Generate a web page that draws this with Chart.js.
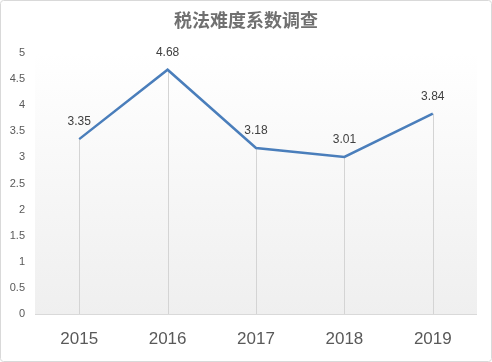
<!DOCTYPE html>
<html><head><meta charset="utf-8">
<script src="https://cdn.jsdelivr.net/npm/chart.js@4/dist/chart.umd.min.js"></script>
<style>html,body{margin:0;padding:0;background:#fff}#wrap{width:492px;height:362px;position:relative}</style>
</head><body><div id="wrap"><canvas id="c" width="492" height="362"></canvas></div>
<script>
const titleText = "税法难度系数调查";
const categories = ["2015", "2016", "2017", "2018", "2019"];
const values = [3.35, 4.68, 3.18, 3.01, 3.84];
const yTicks = [0, 0.5, 1, 1.5, 2, 2.5, 3, 3.5, 4, 4.5, 5];

const deco = {
  id: 'deco',
  beforeDatasetsDraw(chart) {
    const {ctx, chartArea: a, scales: {x, y}} = chart;
    ctx.save();
    const g = ctx.createLinearGradient(0, a.top, 0, a.bottom);
    g.addColorStop(0, '#ffffff');
    g.addColorStop(1, '#efefef');
    ctx.fillStyle = g;
    ctx.fillRect(a.left, a.top, a.right - a.left, a.bottom - a.top);
    ctx.strokeStyle = '#d4d4d4';
    ctx.lineWidth = 1;
    values.forEach((v, i) => {
      const px = Math.round(x.getPixelForValue(i)) + 0.5;
      ctx.beginPath();
      ctx.moveTo(px, y.getPixelForValue(v));
      ctx.lineTo(px, a.bottom);
      ctx.stroke();
    });
    ctx.strokeStyle = '#d9d9d9';
    ctx.beginPath();
    ctx.moveTo(a.left, Math.round(a.bottom) + 0.5);
    ctx.lineTo(a.right, Math.round(a.bottom) + 0.5);
    ctx.stroke();
    ctx.restore();
  },
  afterDraw(chart) {
    const {ctx, scales: {x, y}} = chart;
    ctx.save();
    ctx.fillStyle = '#404040';
    ctx.font = '12px "Liberation Sans", "DejaVu Sans", sans-serif';
    ctx.textAlign = 'center';
    ctx.textBaseline = 'middle';
    values.forEach((v, i) => {
      ctx.fillText(v.toFixed(2), x.getPixelForValue(i), y.getPixelForValue(v) - 17);
    });
    ctx.fillStyle = '#707070';
    ctx.font = 'bold 18px "Noto Sans CJK SC", sans-serif';
    ctx.fillText(titleText, 246, 20);
    ctx.strokeStyle = '#d9d9d9';
    ctx.lineWidth = 1;
    ctx.beginPath();
    if (ctx.roundRect) ctx.roundRect(0.5, 0.5, 491, 361, 3); else ctx.rect(0.5, 0.5, 491, 361);
    ctx.stroke();
    ctx.restore();
  }
};

new Chart(document.getElementById('c'), {
  type: 'line',
  data: {
    labels: categories,
    datasets: [{
      data: values,
      borderColor: '#4a7ebb',
      borderWidth: 2.5,
      pointRadius: 0,
      tension: 0,
      fill: false
    }]
  },
  options: {
    responsive: false,
    animation: false,
    devicePixelRatio: 1,
    layout: {padding: {top: 53, right: 15, bottom: 0, left: 0}},
    plugins: {legend: {display: false}, title: {display: false}, tooltip: {enabled: false}},
    scales: {
      x: {
        type: 'category',
        offset: true,
        grid: {display: false, drawTicks: false},
        border: {display: false},
        ticks: {color: '#595959', font: {size: 17, family: '"Liberation Sans", sans-serif'}, padding: 15, maxRotation: 0},
        afterFit(s) { s.height = 48; }
      },
      y: {
        min: 0, max: 5,
        afterBuildTicks(s) { s.ticks = yTicks.map(v => ({value: v})); },
        grid: {display: false, drawTicks: false},
        border: {display: false},
        ticks: {color: '#595959', font: {size: 11, family: '"Liberation Sans", sans-serif'}, padding: 10,
          callback: (v) => String(v)},
        afterFit(s) { s.width = 35; }
      }
    }
  },
  plugins: [deco]
});
</script></body></html>
